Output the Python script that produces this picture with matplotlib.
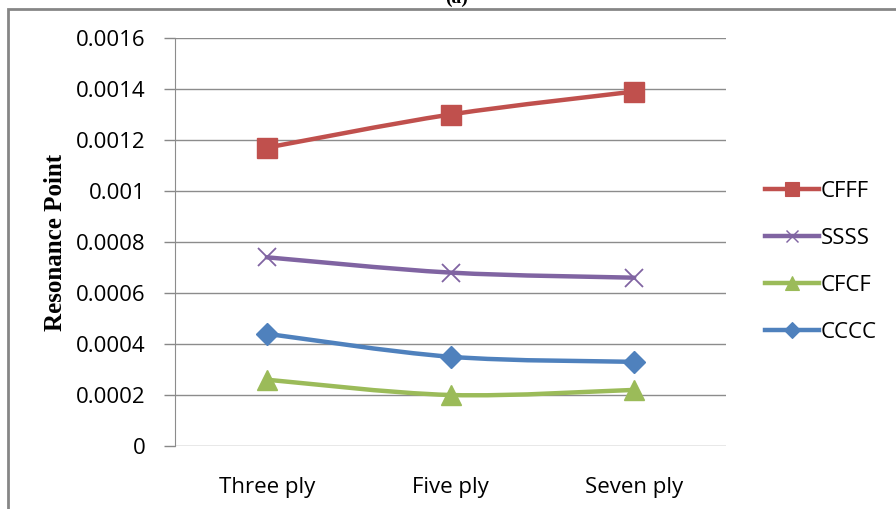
import numpy as np
import matplotlib
matplotlib.use("Agg")
import matplotlib.pyplot as plt
from matplotlib.path import Path
from matplotlib.patches import PathPatch, Rectangle
from matplotlib.lines import Line2D

# Resonance point for each boundary condition vs. number of plies
categories = ["Three ply", "Five ply", "Seven ply"]
cfff = [0.00117, 0.00130, 0.00139]
ssss = [0.00074, 0.00068, 0.00066]
cfcf = [0.00026, 0.00020, 0.00022]
cccc = [0.00044, 0.00035, 0.00033]
y_ticks = [0, 0.0002, 0.0004, 0.0006, 0.0008, 0.001, 0.0012, 0.0014, 0.0016]
y_tick_labels = ["0", "0.0002", "0.0004", "0.0006", "0.0008", "0.001", "0.0012", "0.0014", "0.0016"]

tick_font = "Open Sans"
tick_size = 16


def smooth_path(xs, ys):
    # Catmull-Rom style bezier segments, like a spreadsheet "smoothed line"
    pts = np.column_stack([xs, ys])
    n = len(pts)
    verts = [pts[0]]
    codes = [Path.MOVETO]
    for i in range(n - 1):
        p0 = pts[max(i - 1, 0)]
        p1 = pts[i]
        p2 = pts[i + 1]
        p3 = pts[min(i + 2, n - 1)]
        c1 = p1 + (p2 - p0) / 6.0
        c2 = p2 - (p3 - p1) / 6.0
        verts += [c1, c2, p2]
        codes += [Path.CURVE4] * 3
    return Path(verts, codes)


fig = plt.figure(figsize=(8.96, 5.09), dpi=100)
ax = fig.add_axes([175 / 896, 63 / 509, 551 / 896, 408 / 509])

x = np.arange(len(categories)) + 0.5
series = [
    ("CFFF", cfff, "#C0504D", "s", 14, 1),
    ("SSSS", ssss, "#8064A2", "x", 13, 1.3),
    ("CFCF", cfcf, "#9BBB59", "^", 14, 1),
    ("CCCC", cccc, "#4F81BD", "D", 11, 1),
]

handles = []
for name, vals, color, mk, ms, mew in series:
    ax.add_patch(PathPatch(smooth_path(x, vals), facecolor="none", edgecolor=color,
                           lw=3.2, capstyle="round", zorder=3))
    ax.plot(x, vals, linestyle="none", marker=mk, markersize=ms, color=color,
            markeredgewidth=mew, zorder=4)
    handles.append(Line2D([0], [0], color=color, lw=3.2, marker=mk,
                          markersize=ms * 0.7, markeredgewidth=mew * 0.8))

ax.set_xlim(0, 3)
ax.set_ylim(0, 0.0016)
ax.set_yticks(y_ticks)
ax.set_yticklabels(y_tick_labels, fontsize=tick_size, family=tick_font)
ax.set_xticks(x)
ax.set_xticklabels(categories, fontsize=tick_size, family=tick_font)
ax.tick_params(axis="x", length=0, pad=22)
ax.tick_params(axis="y", length=8, width=1, color="#888888", pad=13)
ax.grid(axis="y", color="#8c8c8c", lw=1)
ax.set_axisbelow(True)
for side in ["top", "right", "bottom"]:
    ax.spines[side].set_visible(False)
ax.spines["left"].set_color("#8c8c8c")

ax.set_ylabel("Resonance Point", family="Liberation Serif", fontweight="bold",
              fontsize=18)
ax.yaxis.set_label_coords((67 - 175) / 551, 0.5)

fig.legend(handles=handles, labels=[s[0] for s in series], loc="center left",
           bbox_to_anchor=(745 / 896, 1 - 262 / 509), frameon=False,
           prop={"family": tick_font, "size": tick_size}, handlelength=2.45,
           handletextpad=0.05, labelspacing=1.17)

# chart frame and panel title
fig.patches.append(Rectangle((8 / 896, -0.1), 1.2, 1 - 9 / 509 + 0.1,
                             transform=fig.transFigure, fill=False,
                             edgecolor="#868686", lw=2))
fig.text(457 / 896, 1 - 7 / 509, "(a)", ha="center", va="bottom",
         family="Liberation Serif", fontweight="bold", fontsize=14)

fig.savefig("out.png", dpi=100)
